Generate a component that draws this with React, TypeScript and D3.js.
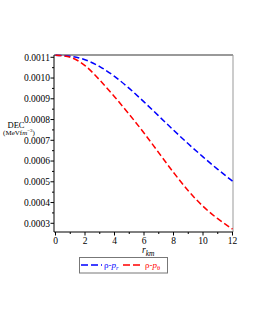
import React, { useRef, useEffect } from "react";
import * as d3 from "d3";

// radius in km
const radii = [0, 1, 2, 3, 4, 5, 6, 7, 8, 9, 10, 11, 12];
// rho - p_r
const decRadial = [0.00111, 0.001105, 0.001088, 0.001055, 0.001008, 0.00095, 0.000885, 0.000817, 0.000749, 0.000683, 0.00062, 0.00056, 0.000503];
// rho - p_theta
const decTangential = [0.00111, 0.0011, 0.00106, 0.00099, 0.00091, 0.000825, 0.000735, 0.00064, 0.000545, 0.000457, 0.000382, 0.000322, 0.000272];
const yTicks = [0.0003, 0.0004, 0.0005, 0.0006, 0.0007, 0.0008, 0.0009, 0.001, 0.0011];
const xTicks = [0, 2, 4, 6, 8, 10, 12];

const App = () => {
  const svgRef = useRef<SVGSVGElement>(null);

  useEffect(() => {
    const svg = d3.select(svgRef.current);
    svg.selectAll("*").remove();

    const left = 54, right = 233, top = 55, bottom = 232;
    const x = d3.scaleLinear().domain([0, 12]).range([55.5, 232.5]);
    const y = d3.scaleLinear().domain([0.000258, 0.001111]).range([bottom, top]);

    const font = "'Liberation Serif', 'Times New Roman', serif";

    // frame: top and right in grey
    svg.append("line").attr("x1", left).attr("x2", right).attr("y1", top).attr("y2", top)
      .attr("stroke", "#999").attr("stroke-width", 2);
    svg.append("line").attr("x1", right).attr("x2", right).attr("y1", top).attr("y2", bottom)
      .attr("stroke", "#999").attr("stroke-width", 1);

    // y axis
    const yAxis = svg.append("g");
    yAxis.append("line").attr("x1", left).attr("x2", left).attr("y1", top).attr("y2", bottom)
      .attr("stroke", "#000");
    const yMinor = d3.range(0.0003, 0.00111, 0.00005);
    yAxis.selectAll(".ym").data(yMinor).enter().append("line")
      .attr("x1", left).attr("x2", (d, i) => left - (i % 2 === 0 ? 3.5 : 2))
      .attr("y1", (d) => y(d)).attr("y2", (d) => y(d)).attr("stroke", "#000");
    yAxis.selectAll(".yl").data(yTicks).enter().append("text")
      .attr("x", left - 4).attr("y", (d) => y(d) + 3.3)
      .attr("text-anchor", "end").attr("font-family", font).attr("font-size", 9.5)
      .text((d) => d.toFixed(4));

    // x axis
    const xAxis = svg.append("g");
    xAxis.append("line").attr("x1", left).attr("x2", right).attr("y1", bottom).attr("y2", bottom)
      .attr("stroke", "#000");
    const xMinor = d3.range(0, 12.5, 1);
    xAxis.selectAll(".xm").data(xMinor).enter().append("line")
      .attr("x1", (d) => x(d)).attr("x2", (d) => x(d))
      .attr("y1", bottom).attr("y2", (d, i) => bottom + (i % 2 === 0 ? 3.5 : 2))
      .attr("stroke", "#000");
    xAxis.selectAll(".xl").data(xTicks).enter().append("text")
      .attr("x", (d) => x(d)).attr("y", bottom + 11.5)
      .attr("text-anchor", "middle").attr("font-family", font).attr("font-size", 9.5)
      .text((d) => d);

    // curves
    const line = d3.line<number>()
      .x((d, i) => x(radii[i]))
      .y((d) => y(d))
      .curve(d3.curveNatural);

    svg.append("path").attr("d", line(decRadial)).attr("fill", "none")
      .attr("stroke", "#0000ff").attr("stroke-width", 1.5).attr("stroke-dasharray", "6,3");
    svg.append("path").attr("d", line(decTangential)).attr("fill", "none")
      .attr("stroke", "#ff0000").attr("stroke-width", 1.5).attr("stroke-dasharray", "6,3");

    // y label
    svg.append("text").attr("x", 16).attr("y", 128).attr("text-anchor", "middle")
      .attr("font-family", font).attr("font-size", 8.5).text("DEC");
    const unit = svg.append("text").attr("x", 19).attr("y", 135).attr("text-anchor", "middle")
      .attr("font-family", font).attr("font-size", 7);
    unit.append("tspan").text("(MeVf");
    unit.append("tspan").attr("font-style", "italic").text("m");
    unit.append("tspan").attr("dy", -3).attr("font-size", 5).text("−3");
    unit.append("tspan").attr("dy", 3).text(")");

    // x label
    const xl = svg.append("text").attr("x", 142).attr("y", 252.5)
      .attr("font-family", font).attr("font-size", 9.5).attr("font-style", "italic");
    xl.append("tspan").text("r");
    xl.append("tspan").attr("dy", 3).attr("font-size", 7.5).text("km");

    // legend
    const lg = svg.append("g");
    lg.append("rect").attr("x", 79.5).attr("y", 257.5).attr("width", 88).attr("height", 15.5)
      .attr("fill", "#fff").attr("stroke", "#777").attr("stroke-width", 1);
    lg.append("line").attr("x1", 81).attr("x2", 102).attr("y1", 265).attr("y2", 265)
      .attr("stroke", "#0000ff").attr("stroke-width", 1.5).attr("stroke-dasharray", "7,3");
    const t1 = lg.append("text").attr("x", 104).attr("y", 268).attr("fill", "#0000ff")
      .attr("font-family", font).attr("font-size", 9);
    t1.append("tspan").text("ρ-");
    t1.append("tspan").attr("font-style", "italic").text("p");
    t1.append("tspan").attr("dy", 2).attr("font-size", 6.5).attr("font-style", "italic").text("r");
    lg.append("line").attr("x1", 123).attr("x2", 143).attr("y1", 265).attr("y2", 265)
      .attr("stroke", "#ff0000").attr("stroke-width", 1.5).attr("stroke-dasharray", "7,3");
    const t2 = lg.append("text").attr("x", 145).attr("y", 268).attr("fill", "#ff0000")
      .attr("font-family", font).attr("font-size", 9);
    t2.append("tspan").text("ρ-");
    t2.append("tspan").attr("font-style", "italic").text("p");
    t2.append("tspan").attr("dy", 2).attr("font-size", 6.5).text("θ");
  }, []);

  return (
    <svg
      ref={svgRef}
      width={255}
      height={330}
      style={{ position: "absolute", left: 0, top: 0, background: "#fff" }}
    ></svg>
  );
};

export default App;
